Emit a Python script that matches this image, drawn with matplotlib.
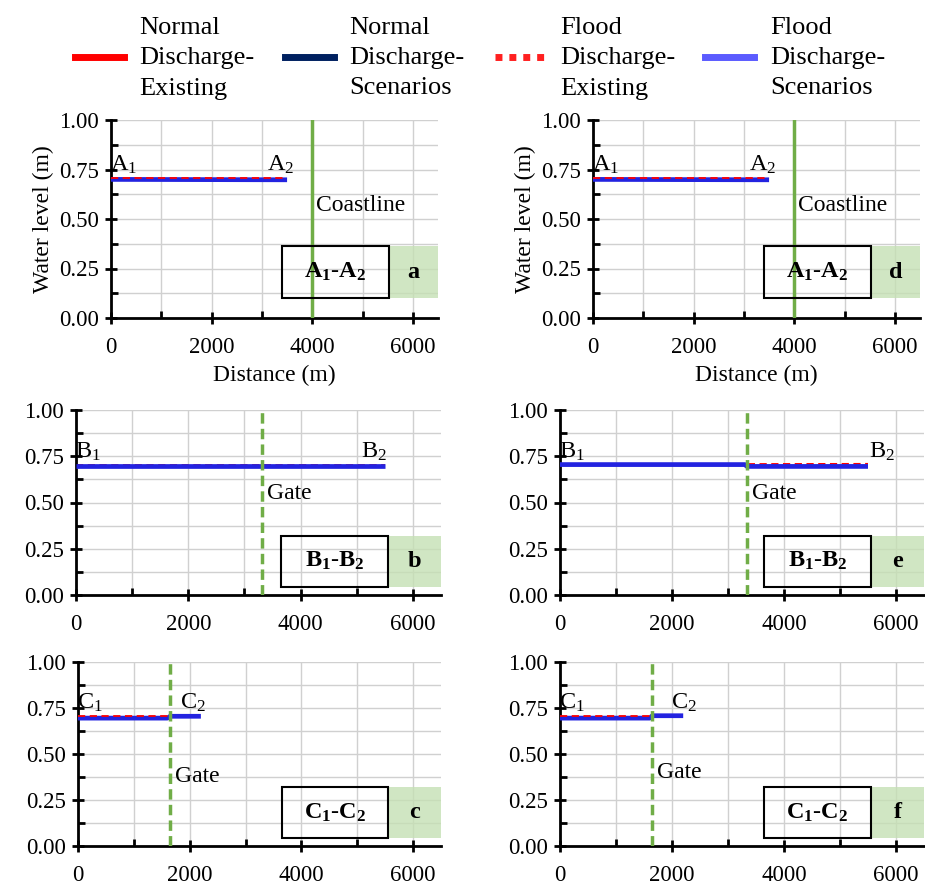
import matplotlib
matplotlib.use("Agg")
import matplotlib.pyplot as plt
from matplotlib.lines import Line2D
from matplotlib.patches import Rectangle
from matplotlib.ticker import MultipleLocator

plt.rcParams['font.family'] = ['Liberation Serif', 'DejaVu Serif']
plt.rcParams['mathtext.fontset'] = 'custom'
plt.rcParams['mathtext.rm'] = 'Liberation Serif'
plt.rcParams['mathtext.it'] = 'Liberation Serif:italic'
plt.rcParams['mathtext.bf'] = 'Liberation Serif:bold'

# ---- data ----
panel_letters = ['a', 'b', 'c', 'd', 'e', 'f']
section_names = ['A', 'B', 'C', 'A', 'B', 'C']

# scenario water level profiles (distance m, level m)
scen_x = [[0, 3500], [0, 5500], [0, 1600, 1650, 2200],
          [0, 3500], [0, 3300, 3340, 5500], [0, 1600, 1650, 2200]]
scen_y = [[0.700, 0.698], [0.700, 0.700], [0.695, 0.695, 0.705, 0.705],
          [0.700, 0.698], [0.705, 0.705, 0.695, 0.695], [0.695, 0.695, 0.708, 0.708]]
# existing condition profiles
exist_x = [[0, 3500], [0, 5500], [0, 1650],
           [0, 3500], [0, 3300, 5500], [0, 1650]]
exist_y = [[0.705, 0.705], [0.702, 0.702], [0.705, 0.705],
           [0.705, 0.705], [0.705, 0.708, 0.709], [0.707, 0.707]]
existing_on_top = [True, False, True, True, False, True]

# structure marker (coastline / gate) position
marker_x = [4000, 3320, 1650, 4000, 3340, 1650]
marker_name = ['Coastline', 'Gate', 'Gate', 'Coastline', 'Gate', 'Gate']
marker_text_y = [0.57, 0.55, 0.38, 0.57, 0.55, 0.40]

# x of the second end point label
end2_x = [3100, 5080, 1820, 3100, 5520, 1980]

# ---- layout in pixels ----
W, H = 925, 886
fig = plt.figure(figsize=(W / 100, H / 100), dpi=100)

boxes = [  # left, right, top, bottom in pixels
    (111, 438, 120, 318),
    (76, 441, 410, 595),
    (78, 441, 662, 846),
    (593, 920, 120, 318),
    (560, 924, 410, 595),
    (560, 924, 662, 846),
]
box_y = [(0.10, 0.364), (0.045, 0.32), (0.045, 0.32),
         (0.10, 0.364), (0.045, 0.32), (0.045, 0.32)]
box_x = [(3400, 5520), (3650, 5550), (3650, 5550),
         (3400, 5520), (3650, 5550), (3650, 5550)]

fs = 16.5
for i in range(6):
    l, r, t, b = boxes[i]
    ax = fig.add_axes([l / W, 1 - b / H, (r - l) / W, (b - t) / H])
    ax.set_xlim(0, 6500)
    ax.set_ylim(0, 1.0)
    ax.xaxis.set_major_locator(MultipleLocator(2000))
    ax.xaxis.set_minor_locator(MultipleLocator(1000))
    ax.yaxis.set_major_locator(MultipleLocator(0.25))
    ax.yaxis.set_minor_locator(MultipleLocator(0.125))
    ax.yaxis.set_major_formatter(plt.FormatStrFormatter('%.2f'))
    ax.grid(True, which='both', color='#d0d0d0', lw=1.0, zorder=0)
    ax.set_axisbelow(True)
    for s in ['top', 'right']:
        ax.spines[s].set_visible(False)
    for s in ['left', 'bottom']:
        ax.spines[s].set_linewidth(2.0)
    ax.tick_params(which='major', direction='inout', length=9, width=2,
                   labelsize=fs, pad=4)
    ax.tick_params(axis='x', which='major', pad=9)
    ax.tick_params(which='minor', direction='in', length=5, width=2)

    ex_z = 4 if existing_on_top[i] else 2
    ax.plot(scen_x[i], scen_y[i], color='#2323e0', lw=3.4, zorder=3,
            solid_capstyle='butt')
    ax.plot(exist_x[i], exist_y[i], color='#ff0000', lw=1.3, ls=(0, (4, 2.5)),
            zorder=ex_z)

    ls = '-' if marker_name[i] == 'Coastline' else (0, (3, 1.5))
    ax.axvline(marker_x[i], color='#70ad47', lw=2.5, ls=ls, zorder=5,
               ymax=0.995)
    ax.text(marker_x[i] + 80, marker_text_y[i], marker_name[i],
            fontsize=fs + 0.5, ha='left', va='center', zorder=6)

    n = section_names[i]
    ax.text(-20, 0.715, n + '$_1$', fontsize=fs + 1, ha='left',
            va='bottom', zorder=6)
    ax.text(end2_x[i], 0.715, n + '$_2$', fontsize=fs + 1, ha='left',
            va='bottom', zorder=6)

    y0, y1 = box_y[i]
    x0, x1 = box_x[i]
    ax.add_patch(Rectangle((x0, y0), x1 - x0, y1 - y0, fill=False,
                           edgecolor='black', lw=1.5, zorder=6))
    ax.add_patch(Rectangle((x1, y0), 6500 - x1, y1 - y0, facecolor='#c5e0b4',
                           alpha=0.8, edgecolor='none', zorder=1))
    ax.text((x0 + x1) / 2, (y0 + y1) / 2,
            r'$\mathbf{%s_1}$-$\mathbf{%s_2}$' % (n, n),
            fontsize=fs + 1, ha='center', va='center', zorder=7)
    ax.text((x1 + 6500) / 2, (y0 + y1) / 2, panel_letters[i],
            fontsize=fs + 1, fontweight='bold', ha='center', va='center',
            zorder=7)

    if i in (0, 3):
        ax.set_ylabel('Water level (m)', fontsize=fs + 0.5, labelpad=4)
        ax.set_xlabel('Distance (m)', fontsize=fs + 0.5, labelpad=5)

# ---- legend ----
handles = [
    Line2D([], [], color='#ff0000', lw=5),
    Line2D([], [], color='#002060', lw=5),
    Line2D([], [], color='#ff2020', lw=5, ls=(0, (1, 1))),
    Line2D([], [], color='#5b5bff', lw=5),
]
labels = ['Normal\nDischarge-\nExisting', 'Normal\nDischarge-\nScenarios',
          'Flood\nDischarge-\nExisting', 'Flood\nDischarge-\nScenarios']
leg = fig.legend(handles, labels, loc='center',
                 bbox_to_anchor=(0.519, 1 - 58 / H), ncol=4, frameon=False,
                 fontsize=19, handlelength=1.85, handletextpad=0.6,
                 columnspacing=1.15)
for txt in leg.get_texts():
    txt.set_linespacing(1.5)

fig.savefig('out.png', dpi=100)
